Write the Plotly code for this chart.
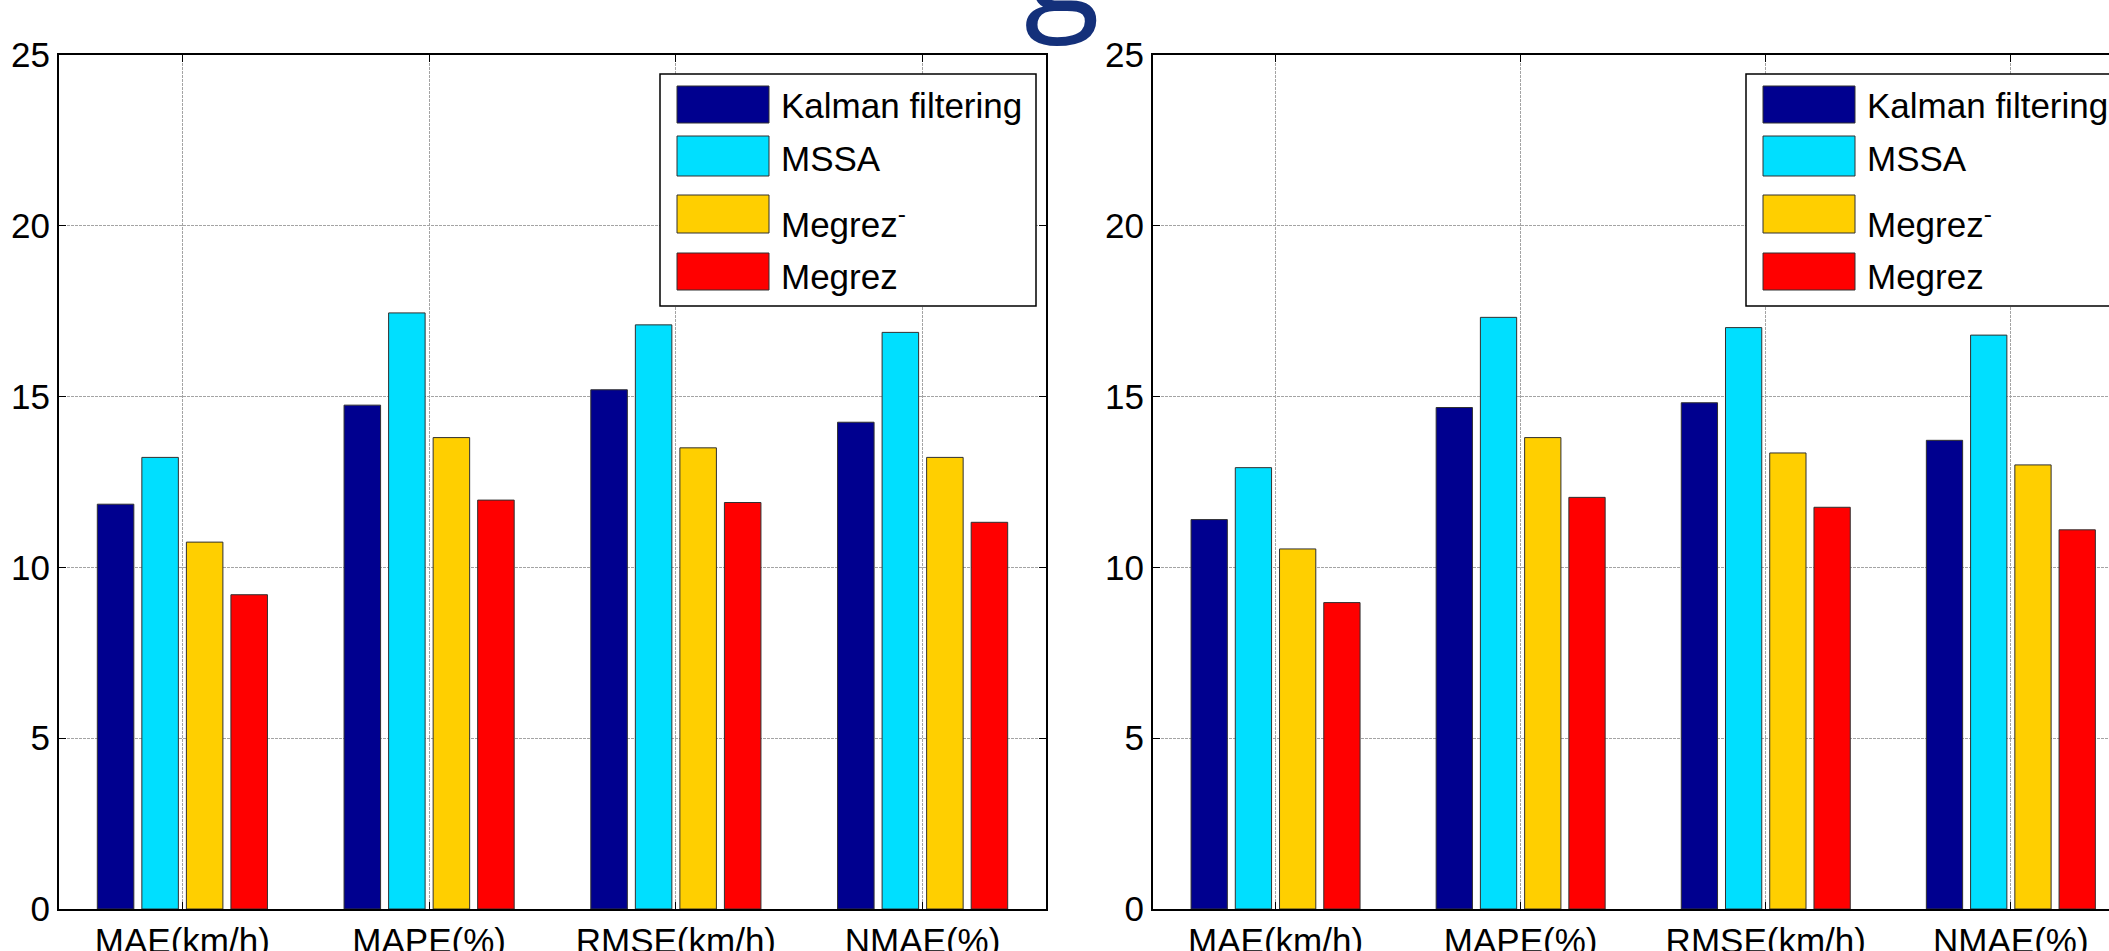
import plotly.graph_objects as go

# ---------------- data ----------------
categories = ["MAE(km/h)", "MAPE(%)", "RMSE(km/h)", "NMAE(%)"]
series_names = ["Kalman filtering", "MSSA", "Megrez<sup>-</sup>", "Megrez"]
colors = ["#00008F", "#00DFFF", "#FFCF00", "#FF0000"]

left_kalman = [11.85, 14.75, 15.20, 14.25]
left_mssa = [13.22, 17.45, 17.10, 16.88]
left_megrez_minus = [10.74, 13.80, 13.50, 13.22]
left_megrez = [9.20, 11.97, 11.90, 11.32]

right_kalman = [11.40, 14.68, 14.82, 13.72]
right_mssa = [12.92, 17.32, 17.02, 16.80]
right_megrez_minus = [10.54, 13.80, 13.35, 13.00]
right_megrez = [8.97, 12.05, 11.76, 11.10]

y_ticks = [0, 5, 10, 15, 20, 25]

left_series = [left_kalman, left_mssa, left_megrez_minus, left_megrez]
right_series = [right_kalman, right_mssa, right_megrez_minus, right_megrez]

# ---------------- layout geometry (pixels) ----------------
W, H = 2109, 951
FONT = "Liberation Sans, Arial, sans-serif"
FS = 35

def fx(p):
    return p / W

def fy(p):
    return 1 - p / H

plot_top, plot_bot = 55, 909
left_x0, left_x1 = 59, 1046
right_x0, right_x1 = 1153, 2109

fig = go.Figure()

for si, name in enumerate(series_names):
    fig.add_trace(go.Bar(x=categories, y=left_series[si], name=name,
                         marker=dict(color=colors[si], line=dict(color="#303030", width=1)),
                         xaxis="x", yaxis="y", showlegend=False))
for si, name in enumerate(series_names):
    fig.add_trace(go.Bar(x=categories, y=right_series[si], name=name,
                         marker=dict(color=colors[si], line=dict(color="#303030", width=1)),
                         xaxis="x2", yaxis="y2", showlegend=False))

axis_common = dict(
    showline=True, linecolor="black", linewidth=2,
    ticks="inside", ticklen=7, tickwidth=1, tickcolor="black",
    showgrid=True, gridcolor="#A4A4A4", gridwidth=1, griddash="3px,1px",
    tickfont=dict(family=FONT, size=FS, color="black"),
    zeroline=False, automargin=False,
)

fig.update_layout(
    width=W, height=H,
    margin=dict(l=0, r=0, t=0, b=0, pad=0),
    autosize=False,
    paper_bgcolor="white", plot_bgcolor="white",
    barmode="group", bargap=0.278, bargroupgap=0.18,
    xaxis=dict(domain=[fx(left_x0), fx(left_x1)], anchor="y", type="category",
               range=[-0.5, 3.5], mirror="ticks", **axis_common),
    yaxis=dict(domain=[fy(plot_bot), fy(plot_top)], anchor="x", range=[0, 25],
               tickvals=y_ticks, mirror="ticks", **axis_common),
    xaxis2=dict(domain=[fx(right_x0), 1.0], anchor="y2", type="category",
                range=[-0.5, -0.5 + (right_x1 - right_x0) / 245.1], mirror="ticks", **axis_common),
    yaxis2=dict(domain=[fy(plot_bot), fy(plot_top)], anchor="x2", range=[0, 25],
                tickvals=y_ticks, mirror=False, **axis_common),
    showlegend=False,
)

# ---------------- manual legends (MATLAB style) ----------------
legend_box = (660, 74, 1036, 306)
swatch_x = (677, 769)
swatch_rows = [(86, 123), (136, 176), (195, 233), (253, 290)]
text_x = 779
text_cy = [106, 159, 222, 276]

shapes = []
annotations = []
for off in (0, 1086):
    bx0, by0, bx1, by1 = legend_box
    shapes.append(dict(type="rect", xref="paper", yref="paper",
                       x0=fx(bx0 + off), x1=fx(bx1 + off), y0=fy(by1), y1=fy(by0),
                       fillcolor="white", line=dict(color="black", width=1.5), layer="above"))
    for i, name in enumerate(series_names):
        r0, r1 = swatch_rows[i]
        shapes.append(dict(type="rect", xref="paper", yref="paper",
                           x0=fx(swatch_x[0] + off), x1=fx(swatch_x[1] + off),
                           y0=fy(r1), y1=fy(r0),
                           fillcolor=colors[i], line=dict(color="#303030", width=1), layer="above"))
        annotations.append(dict(xref="paper", yref="paper", x=fx(text_x + off), y=fy(text_cy[i]),
                                xanchor="left", yanchor="middle", text=name, showarrow=False,
                                font=dict(family=FONT, size=FS, color="black")))

# partially visible slide title glyph at the top edge
annotations.append(dict(xref="paper", yref="paper", x=fx(1062), y=fy(56),
                        xanchor="center", yanchor="bottom", text="g", showarrow=False,
                        font=dict(family="Open Sans, sans-serif", size=140, color="#14307A")))

fig.update_layout(shapes=shapes, annotations=annotations)

fig.write_html("out.html")
